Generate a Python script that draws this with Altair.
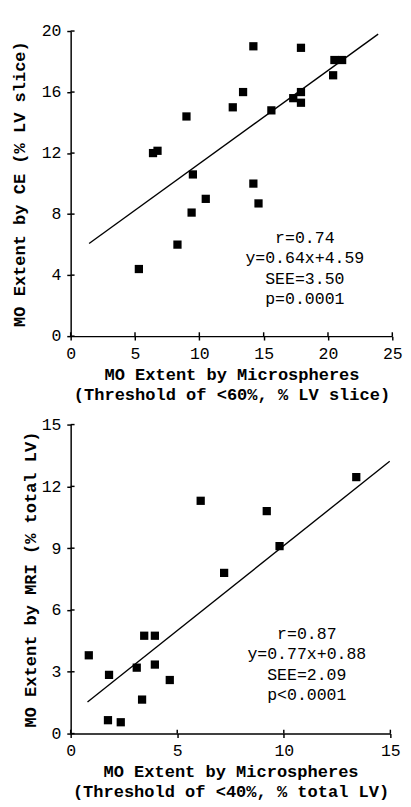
import altair as alt
import pandas as pd

# ---- data ----
top_x = [14.2, 17.9, 20.5, 21.1, 20.4, 13.4, 17.9, 17.3, 17.9, 12.6, 15.6,
         9.0, 6.4, 6.75, 9.5, 14.2, 10.5, 14.6, 9.4, 8.3, 5.3]
top_y = [19.0, 18.9, 18.1, 18.1, 17.1, 16.0, 16.0, 15.6, 15.3, 15.0, 14.8,
         14.4, 12.0, 12.15, 10.6, 10.0, 9.0, 8.7, 8.1, 6.0, 4.4]
top_fit_x = [1.43, 23.9]
top_fit_y = [6.07, 19.8]
top_stats = ["r=0.74", "y=0.64x+4.59", "SEE=3.50", "p=0.0001"]
top_stats_pos = [18.2, 6.95]

bot_x = [13.4, 6.1, 9.2, 9.8, 7.2, 3.45, 3.95, 0.85, 1.8, 3.1, 3.95, 4.65,
         3.35, 1.75, 2.35]
bot_y = [12.45, 11.3, 10.8, 9.1, 7.8, 4.75, 4.75, 3.8, 2.85, 3.2, 3.35, 2.6,
         1.65, 0.65, 0.55]
bot_fit_x = [0.79, 14.97]
bot_fit_y = [1.53, 13.22]
bot_stats = ["r=0.87", "y=0.77x+0.88", "SEE=2.09", "p<0.0001"]
bot_stats_pos = [11.08, 5.2]

top_xticks = [0, 5, 10, 15, 20, 25]
top_yticks = [0, 4, 8, 12, 16, 20]
bot_xticks = [0, 5, 10, 15]
bot_yticks = [0, 3, 6, 9, 12, 15]

FONT = "Liberation Mono"


def panel(px, py, fx, fy, stats, spos, xdom, ydom, xticks, yticks,
          xtitle, ytitle, w, h, ytitle_x):
    pts = pd.DataFrame({"x": px, "y": py})
    fit = pd.DataFrame({"x": fx, "y": fy})
    txt = pd.DataFrame({"x": [spos[0]], "y": [spos[1]], "t": [stats]})
    xt = pd.DataFrame({"v": xticks})
    yt = pd.DataFrame({"v": yticks})

    xs = alt.Scale(domain=xdom, nice=False, zero=False)
    ys = alt.Scale(domain=ydom, nice=False, zero=False)
    xax = alt.Axis(values=xticks, title=xtitle, titleBaseline="middle",
                   titleY=39.5, titleLineHeight=20.6, titleX=w / 2)
    yax = alt.Axis(values=yticks, title=ytitle, titleBaseline="middle",
                   titleX=ytitle_x, titleY=h / 2)

    base_pts = alt.Chart(pts).mark_square(size=72, color="black", opacity=1).encode(
        x=alt.X("x:Q", scale=xs, axis=xax),
        y=alt.Y("y:Q", scale=ys, axis=yax),
    )
    line = alt.Chart(fit).mark_line(color="black", strokeWidth=1.4).encode(
        x=alt.X("x:Q", scale=xs), y=alt.Y("y:Q", scale=ys)
    )
    text = alt.Chart(txt).mark_text(font=FONT, fontSize=17, color="black",
                                    align="center", baseline="top",
                                    lineHeight=21).encode(
        x=alt.X("x:Q", scale=xs), y=alt.Y("y:Q", scale=ys), text="t"
    )
    # inner halves of the ticks (ticks cross the axis lines)
    xin = alt.Chart(xt).mark_rule(color="black", strokeWidth=1.5).encode(
        x=alt.X("v:Q", scale=xs), y=alt.value(h), y2=alt.value(h - 4)
    )
    yin = alt.Chart(yt).mark_rule(color="black", strokeWidth=1.5).encode(
        y=alt.Y("v:Q", scale=ys), x=alt.value(0), x2=alt.value(4)
    )
    return alt.layer(base_pts, line, text, xin, yin).properties(width=w, height=h)


top = panel(top_x, top_y, top_fit_x, top_fit_y, top_stats, top_stats_pos,
            [0, 25], [0, 20], top_xticks, top_yticks,
            ["MO Extent by Microspheres", "(Threshold of <60%, % LV slice)"],
            "MO Extent by CE (% LV slice)", 331, 314, -52)
bot = panel(bot_x, bot_y, bot_fit_x, bot_fit_y, bot_stats, bot_stats_pos,
            [0, 15], [0, 15], bot_xticks, bot_yticks,
            ["MO Extent by Microspheres", "(Threshold of <40%, % total LV)"],
            "MO Extent by MRI (% total LV)", 329, 318, -41)

chart = alt.vconcat(top, bot, spacing=91, bounds="flush").configure(
    padding={"left": 3.5, "top": 3, "right": 0, "bottom": 0}
).configure_view(stroke=None).configure_axis(
    grid=False,
    domainColor="black", domainWidth=1.5,
    tickColor="black", tickWidth=1.5, tickSize=4,
    labelFont=FONT, labelFontSize=17, labelColor="black", labelPadding=6,
    titleFont=FONT, titleFontSize=17.5, titleFontWeight="bold", titleColor="black",
    labelFlush=False,
)

chart.save("out.html", embed_options={"renderer": "svg", "actions": False})
